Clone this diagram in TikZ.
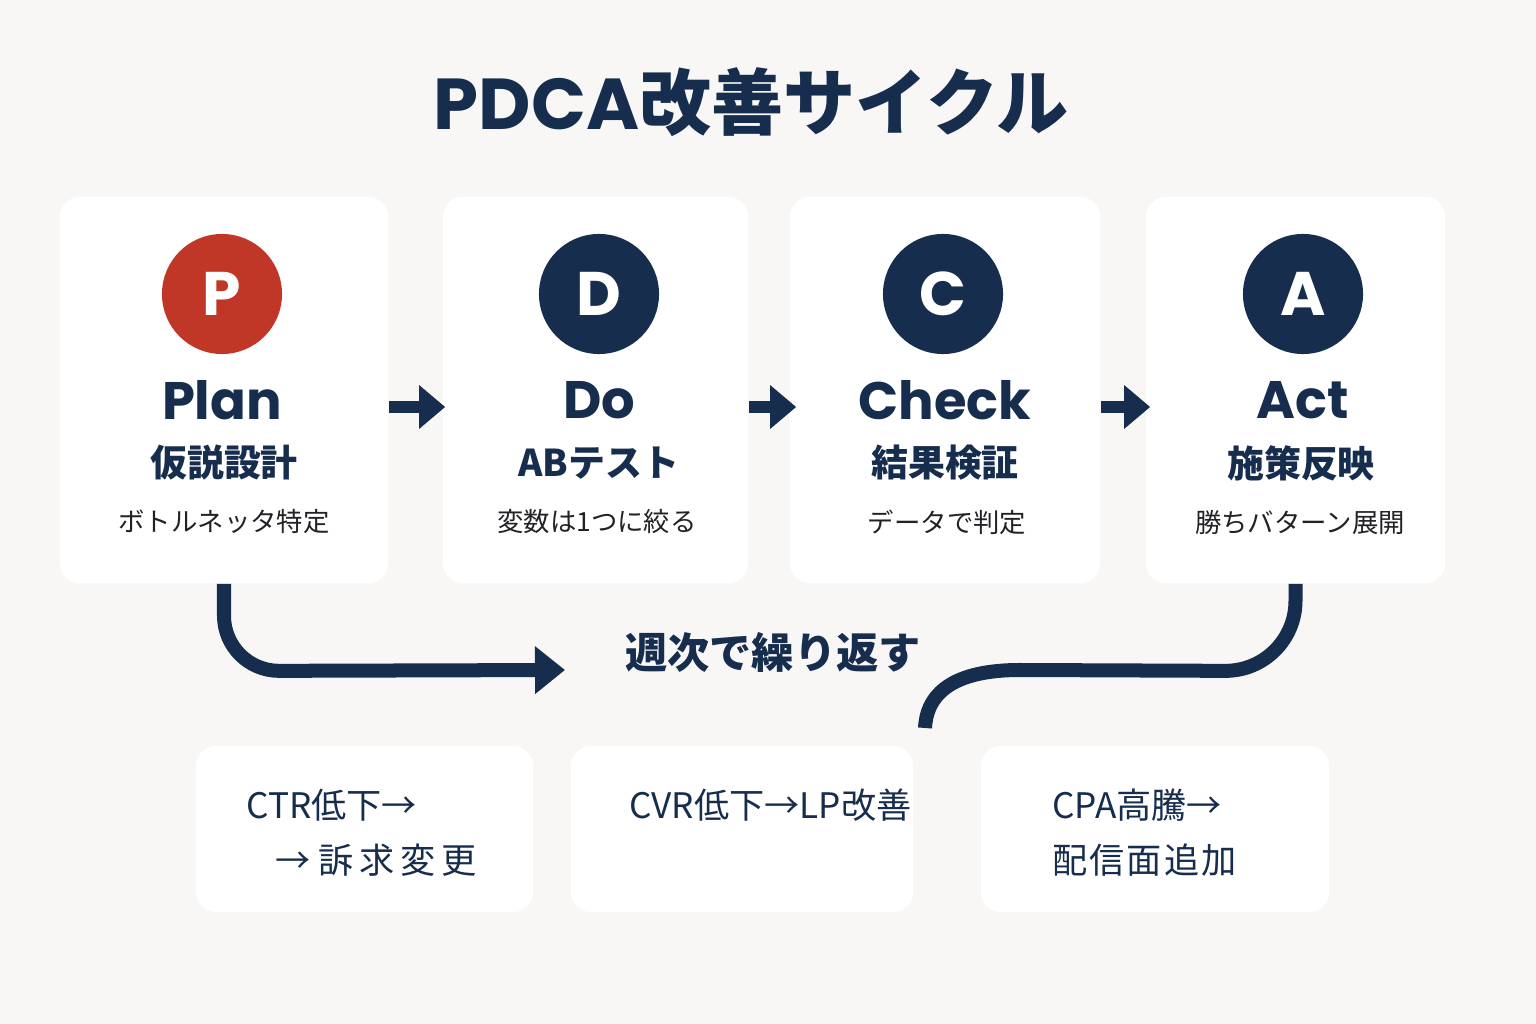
\documentclass[tikz,border=0pt]{standalone}
\usepackage{fontspec}
\setmainfont{Noto Sans CJK JP}
\newfontfamily\popfont{Poppins}
\usetikzlibrary{arrows.meta}
\definecolor{navy}{RGB}{22,45,77}
\definecolor{pred}{RGB}{192,55,40}
\definecolor{bgpaper}{RGB}{248,247,245}
\definecolor{inkgray}{RGB}{34,34,38}
\begin{document}
\begin{tikzpicture}[x=0.01cm, y=0.01cm,
  card/.style={fill=white, rounded corners=0.2cm, inner sep=0pt},
  badge/.style={circle, fill=navy, minimum size=1.2cm, inner sep=0pt, text=white, font=\popfont\bfseries\fontsize{17.5}{20}\selectfont},
  stage/.style={text=navy, font=\popfont\bfseries\fontsize{15}{18}\selectfont},
  jphead/.style={text=navy, font=\bfseries\fontsize{10.5}{12}\selectfont},
  jpnote/.style={text=inkgray, font=\fontsize{7.5}{9}\selectfont},
  flow/.style={-{Triangle[length=0.26cm, width=0.42cm]}, line width=0.12cm, navy},
  loop/.style={line width=0.14cm, navy},
  case/.style={text=navy, anchor=west, font=\fontsize{10}{12}\selectfont}]
  \fill[bgpaper] (0,0) rectangle (1536,1024);
  \useasboundingbox (0,0) rectangle (1536,1024);
  % title
  \node[text=navy, font=\bfseries\fontsize{20.5}{24}\selectfont] (title) at (751,922) {{\popfont PDCA}改善サイクル};
  % stage cards
  \node[card, minimum width=3.28cm, minimum height=3.86cm] (plan) at (224,634) {};
  \node[card, minimum width=3.05cm, minimum height=3.86cm] (do) at (595.5,634) {};
  \node[card, minimum width=3.10cm, minimum height=3.86cm] (check) at (945,634) {};
  \node[card, minimum width=2.99cm, minimum height=3.86cm] (act) at (1295.5,634) {};
  \node[badge, fill=pred] (p) at (222,730) {P};
  \node[badge] (d) at (599,730) {D};
  \node[badge] (c) at (943,730) {C};
  \node[badge] (a) at (1303,730) {A};
  \node[stage] (planname) at (222,624) {Plan};
  \node[stage] (doname) at (599,624) {Do};
  \node[stage] (checkname) at (945,624) {Check};
  \node[stage] (actname) at (1303,624) {Act};
  \node[jphead] (planjp) at (224,561) {仮説設計};
  \node[jphead] (dojp) at (599,561) {ABテスト};
  \node[jphead] (checkjp) at (945,561) {結果検証};
  \node[jphead] (actjp) at (1301,561) {施策反映};
  \node[jpnote] (plannote) at (224,502) {ボトルネッタ特定};
  \node[jpnote] (donote) at (597,502) {変数は1つに絞る};
  \node[jpnote] (checknote) at (947,502) {データで判定};
  \node[jpnote] (actnote) at (1300,502) {勝ちバターン展開};
  % flow arrows
  \draw[flow] ([yshift=-0.17cm]plan.east) -- ([yshift=-0.17cm, xshift=0.03cm]do.west);
  \draw[flow] ([yshift=-0.17cm]do.east) -- ([yshift=-0.17cm, xshift=0.07cm]check.west);
  \draw[flow] ([yshift=-0.17cm]check.east) -- ([yshift=-0.17cm, xshift=0.05cm]act.west);
  % weekly loop
  \coordinate (loopend) at (565,354);
  \coordinate (backend) at (925,296);
  \draw[loop, -{Triangle[length=0.3cm, width=0.46cm]}] (plan.south) -- ++(0,-32) arc[start angle=180, end angle=270, radius=0.55cm] -- (loopend);
  \draw[loop] (act.south) -- ++(0,-17) arc[start angle=0, end angle=-90, radius=0.7cm] -- (1020,354) .. controls (960,354) and (927,335) .. (backend);
  \node[text=navy, font=\bfseries\fontsize{12}{14}\selectfont] (weekly) at (773,372) {週次で繰り返す};
  % case cards
  \node[card, minimum width=3.37cm, minimum height=1.66cm] (ctr) at (364.5,195) {};
  \node[card, minimum width=3.42cm, minimum height=1.66cm] (cvr) at (742,195) {};
  \node[card, minimum width=3.48cm, minimum height=1.66cm] (cpa) at (1155,195) {};
  \node[case] (ctrtop) at (234,219) {CTR低下→};
  \node[case] (ctrbot) at (263,164) {→\ 訴\,求\,変\,更};
  \node[case] (cvrtop) at (617,219) {CVR低下→LP改善};
  \node[case] (cpatop) at (1040,219) {CPA高騰→};
  \node[case] (cpabot) at (1040,164) {配\hspace{0.06em}信\hspace{0.06em}面\hspace{0.06em}追\hspace{0.06em}加};
\end{tikzpicture}
\end{document}
